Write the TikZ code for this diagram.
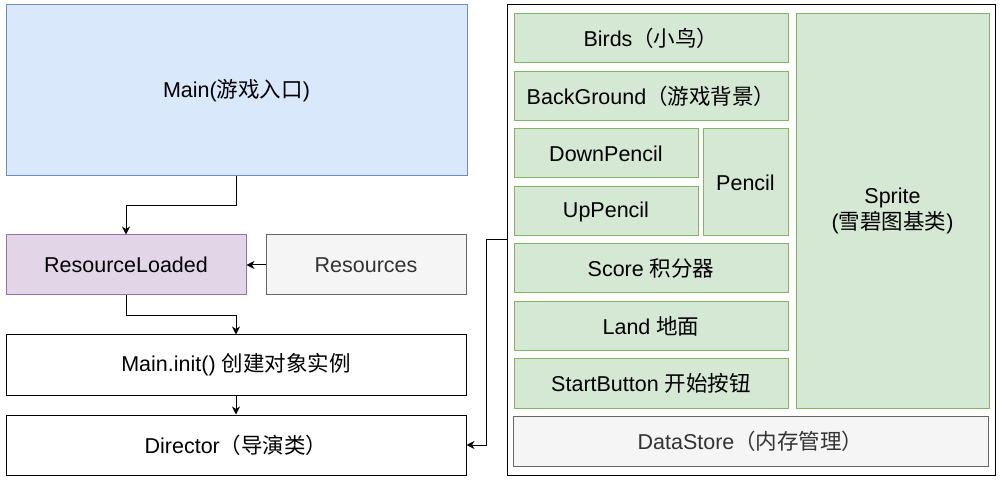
\documentclass[tikz,border=0pt]{standalone}
\usepackage{fontspec}
\setmainfont{Liberation Sans}
\newfontfamily\cjk{Noto Sans CJK SC}
\usepackage{tikz}
\usetikzlibrary{arrows.meta}
\definecolor{blueFill}{HTML}{DAE8FC}
\definecolor{blueLine}{HTML}{6C8EBF}
\definecolor{purpleFill}{HTML}{E1D5E7}
\definecolor{purpleLine}{HTML}{9673A6}
\definecolor{grayFill}{HTML}{F5F5F5}
\definecolor{grayLine}{HTML}{666666}
\definecolor{grayText}{HTML}{333333}
\definecolor{greenFill}{HTML}{D5E8D4}
\definecolor{greenLine}{HTML}{82B366}
\newcommand{\zh}[1]{{\cjk #1}}

\begin{document}
\begin{tikzpicture}[x=1pt,y=-1pt,
  box/.style={draw,line width=1pt,inner sep=0pt,align=center,
    font=\fontsize{21.5}{26}\selectfont},
  plain/.style={box,draw=black,fill=white},
  blue/.style={box,draw=blueLine,fill=blueFill},
  purple/.style={box,draw=purpleLine,fill=purpleFill},
  grey/.style={box,draw=grayLine,fill=grayFill,text=grayText},
  green/.style={box,draw=greenLine,fill=greenFill},
  flow/.style={line width=1pt,-{Stealth[length=8pt,width=8pt,inset=2.5pt]}}]
  \useasboundingbox (0,0) rectangle (1005,481);
  % left column
  \node[blue,minimum width=461pt,minimum height=171pt] (main) at (236.5,90.5)
    {Main(\zh{游戏入口})};
  \node[purple,minimum width=240pt,minimum height=60pt] (loaded) at (126,265)
    {ResourceLoaded};
  \node[grey,minimum width=200pt,minimum height=60pt] (res) at (366,265)
    {Resources};
  \node[plain,minimum width=460pt,minimum height=60pt] (init) at (236,365)
    {Main.init() \zh{创建对象实例}};
  \node[plain,minimum width=460pt,minimum height=60pt] (director) at (236,445)
    {Director\zh{（导演类）}};
  % right container
  \node[plain,minimum width=488pt,minimum height=470pt] (group) at (751,240) {};
  \node[green,minimum width=274pt,minimum height=49pt] (birds) at (651,38.5)
    {Birds\zh{（小鸟）}};
  \node[green,minimum width=274pt,minimum height=49pt] (bg) at (651,96.5)
    {BackGround\zh{（游戏背景）}};
  \node[green,minimum width=184pt,minimum height=49pt] (down) at (606,153.5)
    {DownPencil};
  \node[green,minimum width=184pt,minimum height=49pt] (up) at (606,211.5)
    {UpPencil};
  \node[green,minimum width=85pt,minimum height=107pt] (pencil) at (745.5,182.5)
    {Pencil};
  \node[green,minimum width=274pt,minimum height=49pt] (score) at (651,268.5)
    {Score \zh{积分器}};
  \node[green,minimum width=274pt,minimum height=49pt] (land) at (651,326.5)
    {Land \zh{地面}};
  \node[green,minimum width=274pt,minimum height=49pt] (start) at (651,383.5)
    {StartButton \zh{开始按钮}};
  \node[green,minimum width=193pt,minimum height=394pt] (sprite) at (892.5,211)
    {Sprite\\(\zh{雪碧图基类})};
  \node[grey,minimum width=475pt,minimum height=50pt] (store) at (750.5,441)
    {DataStore\zh{（内存管理）}};
  % connectors
  \draw[flow] (main.south) -- ++(0,29) -| (loaded.north);
  \draw[flow] (res.west) -- (loaded.east);
  \draw[flow] (loaded.south) -- ++(0,20) -| (init.north);
  \draw[flow] (init.south) -- (director.north);
  \draw[flow] (group.west) -- ++(-20,0) |- (director.east);
\end{tikzpicture}
\end{document}
